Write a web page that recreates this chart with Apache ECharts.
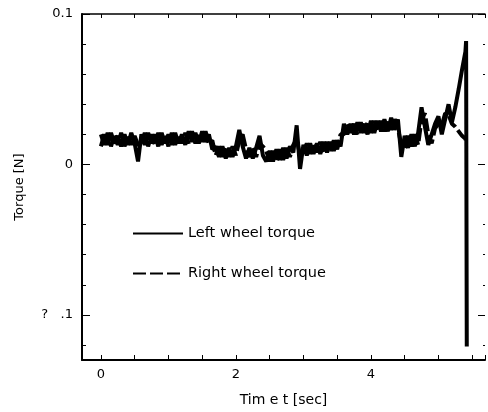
<!DOCTYPE html>
<html>
<head>
<meta charset="utf-8">
<script src="https://cdn.jsdelivr.net/npm/echarts@6/dist/echarts.min.js"></script>
<style>
html, body { margin: 0; padding: 0; background: #fff; }
#main { width: 488px; height: 412px; }
</style>
</head>
<body>
<div id="main"></div>
<script>
// sample times [sec]
var times = [
    0.00, 0.05, 0.10, 0.15, 0.20, 0.25, 0.30, 0.35, 0.40, 0.45,
    0.50, 0.55, 0.60, 0.65, 0.70, 0.75, 0.80, 0.85, 0.90, 0.95,
    1.00, 1.05, 1.10, 1.15, 1.20, 1.25, 1.30, 1.35, 1.40, 1.45,
    1.50, 1.55, 1.60, 1.65, 1.70, 1.75, 1.80, 1.85, 1.90, 1.95,
    2.00, 2.05, 2.10, 2.15, 2.20, 2.25, 2.30, 2.35, 2.40, 2.45,
    2.50, 2.55, 2.60, 2.65, 2.70, 2.75, 2.80, 2.85, 2.90, 2.95,
    3.00, 3.05, 3.10, 3.15, 3.20, 3.25, 3.30, 3.35, 3.40, 3.45,
    3.50, 3.55, 3.60, 3.65, 3.70, 3.75, 3.80, 3.85, 3.90, 3.95,
    4.00, 4.05, 4.10, 4.15, 4.20, 4.25, 4.30, 4.35, 4.40, 4.45,
    4.50, 4.55, 4.60, 4.65, 4.70, 4.75, 4.80, 4.85, 4.90, 4.95,
    5.00, 5.05, 5.10, 5.15, 5.20, 5.25, 5.30, 5.35, 5.40, 5.41,
    5.42
];

// torque [N]
var leftTorque = [
    0.012, 0.020, 0.013, 0.021, 0.014, 0.019, 0.012, 0.020, 0.013, 0.021,
    0.014, 0.002, 0.020, 0.013, 0.021, 0.014, 0.020, 0.012, 0.021, 0.014,
    0.020, 0.013, 0.021, 0.014, 0.020, 0.013, 0.022, 0.015, 0.021, 0.014,
    0.022, 0.015, 0.020, 0.010, 0.012, 0.005, 0.012, 0.004, 0.011, 0.005,
    0.012, 0.023, 0.012, 0.004, 0.011, 0.004, 0.011, 0.019, 0.006, 0.002,
    0.009, 0.002, 0.010, 0.003, 0.011, 0.004, 0.012, 0.008, 0.026, -0.003,
    0.013, 0.006, 0.014, 0.007, 0.014, 0.007, 0.015, 0.008, 0.015, 0.009,
    0.016, 0.012, 0.027, 0.020, 0.027, 0.020, 0.028, 0.021, 0.027, 0.020,
    0.029, 0.021, 0.029, 0.022, 0.030, 0.022, 0.031, 0.023, 0.030, 0.005,
    0.019, 0.011, 0.020, 0.012, 0.021, 0.038, 0.025, 0.013, 0.020, 0.027,
    0.032, 0.020, 0.030, 0.040, 0.028, 0.038, 0.050, 0.063, 0.075, 0.082,
    -0.121
];

var rightTorque = [
    0.020, 0.013, 0.021, 0.012, 0.020, 0.013, 0.021, 0.012, 0.020, 0.013,
    0.019, 0.013, 0.013, 0.021, 0.012, 0.020, 0.013, 0.021, 0.013, 0.020,
    0.012, 0.021, 0.013, 0.020, 0.014, 0.021, 0.014, 0.022, 0.014, 0.021,
    0.015, 0.022, 0.014, 0.016, 0.006, 0.012, 0.005, 0.012, 0.005, 0.012,
    0.006, 0.016, 0.020, 0.010, 0.005, 0.011, 0.005, 0.014, 0.012, 0.009,
    0.002, 0.009, 0.002, 0.010, 0.003, 0.011, 0.005, 0.013, 0.017, 0.006,
    0.007, 0.014, 0.007, 0.014, 0.008, 0.015, 0.008, 0.015, 0.009, 0.016,
    0.010, 0.020, 0.020, 0.027, 0.021, 0.027, 0.020, 0.028, 0.021, 0.028,
    0.021, 0.029, 0.022, 0.029, 0.022, 0.030, 0.023, 0.030, 0.024, 0.013,
    0.011, 0.019, 0.012, 0.020, 0.013, 0.030, 0.034, 0.020, 0.014, 0.024,
    0.027, 0.026, 0.034, 0.033, 0.027, 0.025, 0.022, 0.019, 0.017, 0.016,
    0.014
];

var xTickLabels = [0, 2, 4];
var yTickLabels = { '0.1': '0.1', '0': '0', '-0.1': '?   .1' };

function pairs(xs, ys) {
    var out = [];
    for (var i = 0; i < xs.length; i++) out.push([xs[i], ys[i]]);
    return out;
}

var font = 'DejaVu Sans';
var myChart = echarts.init(document.getElementById('main'));

var xBase = {
    type: 'value',
    min: -0.28,
    max: 5.69,
    splitNumber: 12,
    splitLine: { show: false },
    axisTick: { inside: true, length: 5, lineStyle: { color: '#000', width: 1 } }
};
var yBase = {
    type: 'value',
    min: -0.13,
    max: 0.1,
    splitNumber: 2,
    splitLine: { show: false },
    axisTick: { inside: true, length: 8, lineStyle: { color: '#000', width: 1 } },
    minorTick: { show: true, splitNumber: 5, length: 4, lineStyle: { color: '#000', width: 1 } },
    minorSplitLine: { show: false }
};

option = {
    backgroundColor: '#fff',
    animation: false,
    grid: { left: 82, top: 14, right: 0, bottom: 51 },
    legend: {
        orient: 'vertical',
        left: 132,
        top: 226,
        padding: 0,
        itemWidth: 50,
        itemHeight: 14,
        itemGap: 25,
        lineStyle: { width: 2 },
        itemStyle: { opacity: 0 },
        textStyle: { fontFamily: font, fontSize: 14.5, color: '#000' },
        data: ['Left wheel torque', 'Right wheel torque']
    },
    xAxis: [
        echarts.util.merge({
            position: 'bottom',
            name: 'Tim e t [sec]',
            nameLocation: 'middle',
            nameGap: 33,
            nameTextStyle: { fontFamily: font, fontSize: 14, color: '#000' },
            axisLine: { onZero: false, lineStyle: { color: '#000', width: 2 } },
            axisLabel: {
                margin: 8,
                fontFamily: font, fontSize: 13, color: '#000',
                formatter: function (v) {
                    for (var i = 0; i < xTickLabels.length; i++) {
                        if (Math.abs(v - xTickLabels[i]) < 1e-9) return String(xTickLabels[i]);
                    }
                    return '';
                }
            }
        }, xBase, true),
        echarts.util.merge({
            position: 'top',
            axisLine: { onZero: false, lineStyle: { color: '#000', width: 1.5 } },
            axisTick: { length: 4 },
            axisLabel: { show: false }
        }, xBase, false)
    ],
    yAxis: [
        echarts.util.merge({
            position: 'left',
            name: 'Torque [N]',
            nameLocation: 'middle',
            nameRotate: 90,
            nameGap: 56,
            nameTextStyle: { fontFamily: font, fontSize: 13, color: '#000' },
            axisLine: { onZero: false, lineStyle: { color: '#000', width: 2 } },
            axisLabel: {
                margin: 9,
                fontFamily: font, fontSize: 13, color: '#000',
                formatter: function (v) {
                    var k = String(Math.round(v * 1000) / 1000);
                    return yTickLabels.hasOwnProperty(k) ? yTickLabels[k] : '';
                }
            }
        }, yBase, true),
        echarts.util.merge({
            position: 'right',
            axisLine: { show: false, onZero: false },
            axisTick: { length: 7 },
            minorTick: { length: 2 },
            axisLabel: { show: false }
        }, yBase, false)
    ],
    series: [{
        name: 'Left wheel torque',
        type: 'line',
        symbol: 'none',
        xAxisIndex: 0,
        yAxisIndex: 0,
        lineStyle: { color: '#000', width: 4 },
        itemStyle: { color: '#000' },
        data: pairs(times, leftTorque)
    }, {
        name: 'Right wheel torque',
        type: 'line',
        symbol: 'none',
        xAxisIndex: 0,
        yAxisIndex: 0,
        lineStyle: { color: '#000', width: 4, type: [13, 4] },
        itemStyle: { color: '#000' },
        data: pairs(times, rightTorque)
    }]
};
myChart.setOption(option);
</script>
</body>
</html>
